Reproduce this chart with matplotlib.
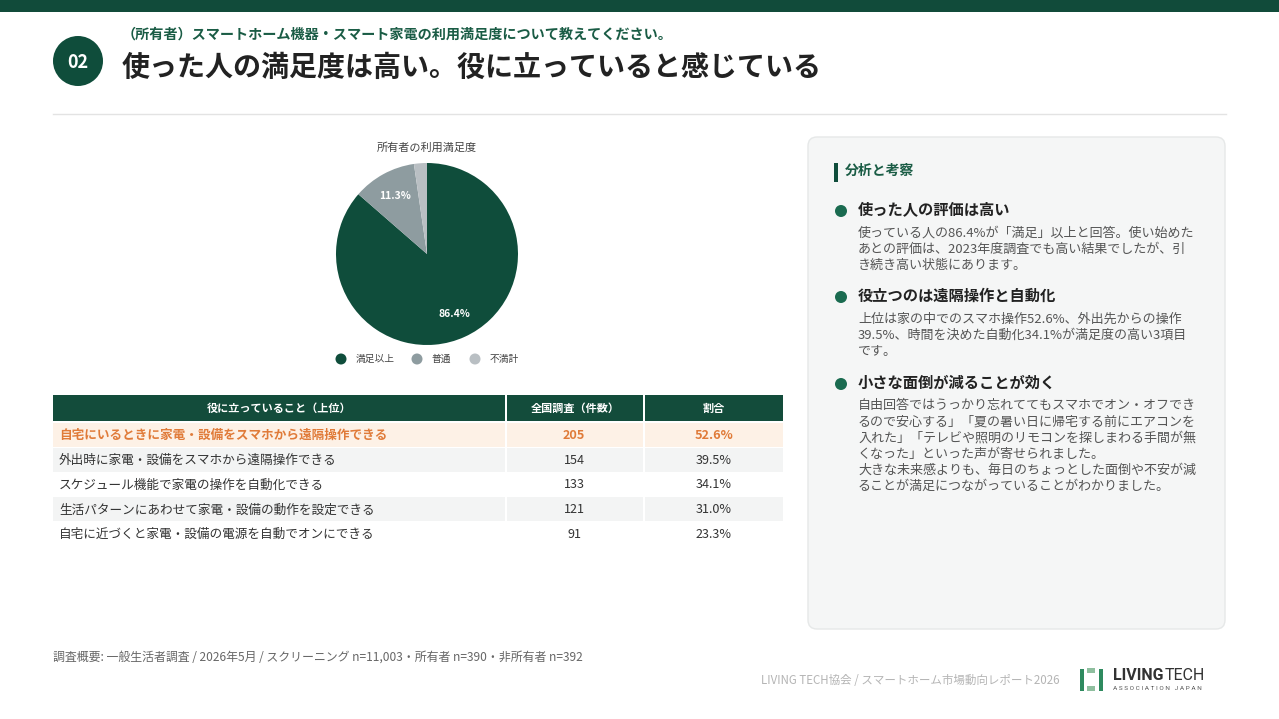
import matplotlib
matplotlib.use("Agg")
import matplotlib.pyplot as plt
from matplotlib.patches import Rectangle, Circle, FancyBboxPatch

plt.rcParams['font.family'] = ['Noto Sans CJK JP', 'DejaVu Sans']

# ---------------- data ----------------
pie_labels = ["満足以上", "普通", "不満計"]
pie_values = [86.4, 11.3, 2.3]
pie_colors = ["#0f4d3b", "#8e9ca0", "#b9bfc3"]

table_headers = ["役に立っていること（上位）", "全国調査（件数）", "割合"]
items = [
    "自宅にいるときに家電・設備をスマホから遠隔操作できる",
    "外出時に家電・設備をスマホから遠隔操作できる",
    "スケジュール機能で家電の操作を自動化できる",
    "生活パターンにあわせて家電・設備の動作を設定できる",
    "自宅に近づくと家電・設備の電源を自動でオンにできる",
]
counts = [205, 154, 133, 121, 91]
shares = [52.6, 39.5, 34.1, 31.0, 23.3]

subtitle = "（所有者）スマートホーム機器・スマート家電の利用満足度について教えてください。"
title = "使った人の満足度は高い。役に立っていると感じている"
pie_title = "所有者の利用満足度"
panel_title = "分析と考察"
sections = [
    ("使った人の評価は高い",
     ["使っている人の86.4%が「満足」以上と回答。使い始めた",
      "あとの評価は、2023年度調査でも高い結果でしたが、引",
      "き続き高い状態にあります。"]),
    ("役立つのは遠隔操作と自動化",
     ["上位は家の中でのスマホ操作52.6%、外出先からの操作",
      "39.5%、時間を決めた自動化34.1%が満足度の高い3項目",
      "です。"]),
    ("小さな面倒が減ることが効く",
     ["自由回答ではうっかり忘れててもスマホでオン・オフでき",
      "るので安心する」「夏の暑い日に帰宅する前にエアコンを",
      "入れた」「テレビや照明のリモコンを探しまわる手間が無",
      "くなった」といった声が寄せられました。",
      "大きな未来感よりも、毎日のちょっとした面倒や不安が減",
      "ることが満足につながっていることがわかりました。"]),
]
footnote = "調査概要: 一般生活者調査 / 2026年5月 / スクリーニング n=11,003・所有者 n=390・非所有者 n=392"
credit = "LIVING TECH協会 / スマートホーム市場動向レポート2026"

# ---------------- figure ----------------
W, H = 1279, 719
fig = plt.figure(figsize=(W / 100, H / 100), dpi=100)
fig.patch.set_facecolor("white")
ax = fig.add_axes([0, 0, 1, 1])
ax.set_xlim(0, W)
ax.set_ylim(H, 0)
ax.axis("off")

GREEN = "#0f4d3b"

# top bar
ax.add_patch(Rectangle((0, 0), W, 12, color="#114b3a", lw=0))

# header
ax.add_patch(Circle((78, 61), 25, color=GREEN, lw=0))
ax.text(78, 62, "02", color="white", fontsize=13, fontweight="bold", ha="center", va="center")
ax.text(122, 35, subtitle, color="#1a5c45", fontsize=10.2, fontweight="bold", ha="left", va="center")
ax.text(122, 68, title, color="#222222", fontsize=20.2, fontweight="bold", ha="left", va="center")
ax.plot([53, 1226], [114, 114], color="#e3e3e3", lw=1)

# pie
ax.text(427, 148, pie_title, color="#444444", fontsize=8, ha="center", va="center")
cx, cy, r = 427, 254, 91
pax = fig.add_axes([(cx - r) / W, 1 - (cy + r) / H, 2 * r / W, 2 * r / H])
pax.pie(pie_values, colors=pie_colors, startangle=90, counterclock=False,
        autopct=lambda p: f"{p:.1f}%" if p > 5 else "", pctdistance=0.73,
        textprops=dict(color="white", fontsize=7.5, fontweight="bold"),
        wedgeprops=dict(linewidth=0))
pax.set_xlim(-1, 1)
pax.set_ylim(-1, 1)
pax.set_aspect("equal")
pax.axis("off")

# legend
lx_marker = [341, 417, 475]
for i, lab in enumerate(pie_labels):
    ax.add_patch(Circle((lx_marker[i], 359), 5.5, color=pie_colors[i], lw=0))
    ax.text(lx_marker[i] + 15, 359, lab, color="#444444", fontsize=7, ha="left", va="center")

# table
col_x = [(53, 505), (507, 643), (645, 783)]
hdr_y0, hdr_y1 = 395, 421
for (x0, x1), h in zip(col_x, table_headers):
    ax.add_patch(Rectangle((x0, hdr_y0), x1 - x0, hdr_y1 - hdr_y0, color="#134c3b", lw=0))
    ax.text((x0 + x1) / 2, (hdr_y0 + hdr_y1) / 2, h, color="white", fontsize=8,
            fontweight="bold", ha="center", va="center")

row_h = 24.8
for i, (it, c, s) in enumerate(zip(items, counts, shares)):
    y0 = 423 + i * row_h
    yc = y0 + row_h / 2
    if i == 0:
        bg = "#fdf1e6"
        fc = "#e07b39"
        fw = "bold"
    else:
        bg = "#f3f4f4" if i % 2 == 1 else "white"
        fc = "#333333"
        fw = "normal"
    for (x0, x1) in col_x:
        ax.add_patch(Rectangle((x0, y0), x1 - x0, row_h - 1, color=bg, lw=0))
    ax.text(59, yc, it, color=fc, fontsize=9.1, fontweight=fw, ha="left", va="center")
    ax.text(574, yc, f"{c}", color=fc, fontsize=9.1, fontweight=fw, ha="center", va="center")
    ax.text(714, yc, f"{s:.1f}%", color=fc, fontsize=9.1, fontweight=fw, ha="center", va="center")

# right panel
ax.add_patch(FancyBboxPatch((808, 137), 417, 492, boxstyle="round,pad=0,rounding_size=9",
                            facecolor="#f5f6f6", edgecolor="#e6e8e8", lw=1))
ax.add_patch(Rectangle((834, 163), 3.5, 19, color=GREEN, lw=0))
ax.text(845, 171, panel_title, color="#1a5c45", fontsize=10, fontweight="bold", ha="left", va="center")

head_y = [210, 296, 383]
for (hd, lines), hy in zip(sections, head_y):
    ax.add_patch(Circle((841, hy + 1), 6, color="#1a6b50", lw=0))
    ax.text(858, hy, hd, color="#222222", fontsize=11, fontweight="bold", ha="left", va="center")
    for j, ln in enumerate(lines):
        ax.text(858, hy + 23 + j * 16.0, ln, color="#555555", fontsize=9.4, ha="left", va="center")

# footer
ax.text(53, 657, footnote, color="#666666", fontsize=8.6, ha="left", va="center")
ax.text(1060, 680, credit, color="#b5b5b5", fontsize=8.3, ha="right", va="center")

# logo
ax.add_patch(Rectangle((1080, 669), 4, 22, color="#2e8a5f", lw=0))
ax.add_patch(Rectangle((1099, 669), 4, 22, color="#2e8a5f", lw=0))
ax.add_patch(Rectangle((1087, 668), 8, 5, color="#8fbf9f", lw=0))
ax.add_patch(Rectangle((1087, 686), 8, 5, color="#8fbf9f", lw=0))
t1 = ax.text(1113, 676, "LIVING", color="#333333", fontsize=11.5, fontweight="bold", ha="left", va="center",
             family=["Roboto", "DejaVu Sans"])
fig.canvas.draw()
bb = t1.get_window_extent(renderer=fig.canvas.get_renderer())
x_tech = ax.transData.inverted().transform((bb.x1 + 1, 0))[0]
ax.text(x_tech, 676, "TECH", color="#333333", fontsize=11.5, ha="left", va="center",
        family=["Roboto", "DejaVu Sans"])
ax.text(1113, 689, "A S S O C I A T I O N   J A P A N", color="#555555", fontsize=4.6, ha="left", va="center",
        family=["Roboto", "DejaVu Sans"])

fig.savefig("out.png", dpi=100, facecolor="white")
